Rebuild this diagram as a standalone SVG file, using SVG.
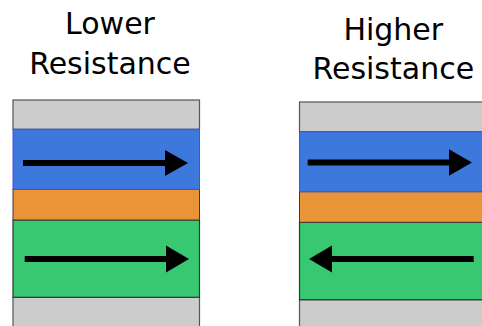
<svg xmlns="http://www.w3.org/2000/svg" width="482" height="326" viewBox="0 0 482 326">
  <defs>
    <style>
      .title { font-family: "DejaVu Sans", Verdana, sans-serif; font-size: 30px; fill: #000; text-anchor: middle; }
      .cap { fill: #cccccc; stroke: #555555; stroke-width: 1.2; }
      .free { fill: #3d78dd; stroke: #4a4ae8; stroke-width: 1; }
      .spacer { fill: #e99437; stroke: #3a3a3a; stroke-width: 1; }
      .fixed { fill: #38c872; stroke: #333333; stroke-width: 1.2; }
      .shaft { stroke: #000; stroke-width: 6; fill: none; }
      .head { fill: #000; }
    </style>
  </defs>

  <!-- Parallel alignment: low resistance -->
  <g id="low-resistance">
    <text class="title" x="110" y="34">Lower</text>
    <text class="title" x="110" y="74">Resistance</text>
    <rect class="cap" x="13" y="100" width="186.5" height="29.3"/>
    <rect class="cap" x="13" y="297.3" width="186.5" height="40"/>
    <rect class="fixed" x="13" y="220" width="186.5" height="77.3"/>
    <rect class="spacer" x="13" y="189.3" width="186.5" height="30.7"/>
    <rect class="free" x="13" y="129.3" width="186.5" height="60"/>
  </g>

  <!-- Antiparallel alignment: high resistance -->
  <g id="high-resistance">
    <text class="title" x="393.3" y="40">Higher</text>
    <text class="title" x="393.3" y="79">Resistance</text>
    <rect class="cap" x="299.5" y="102" width="200" height="29.7"/>
    <rect class="cap" x="299.5" y="299.7" width="200" height="40"/>
    <rect class="fixed" x="299.5" y="222.3" width="200" height="77.4"/>
    <rect class="spacer" x="299.5" y="191.7" width="200" height="30.6"/>
    <rect class="free" x="299.5" y="131.7" width="200" height="60"/>
  </g>

  <!-- Magnetisation arrows: shaft plus triangular head -->
  <g id="connectors">
    <line class="shaft" x1="23" y1="163" x2="170" y2="163"/>
    <path class="head" d="M165,150 L188,163 L165,176 Z"/>
    <line class="shaft" x1="24.7" y1="259" x2="171" y2="259"/>
    <path class="head" d="M166,245.5 L189,259 L166,272.5 Z"/>
    <line class="shaft" x1="307.7" y1="162.5" x2="454" y2="162.5"/>
    <path class="head" d="M449,149.3 L472,162.5 L449,175.7 Z"/>
    <line class="shaft" x1="473.7" y1="259" x2="327" y2="259"/>
    <path class="head" d="M332,245.5 L309,259 L332,272.5 Z"/>
  </g>
</svg>
